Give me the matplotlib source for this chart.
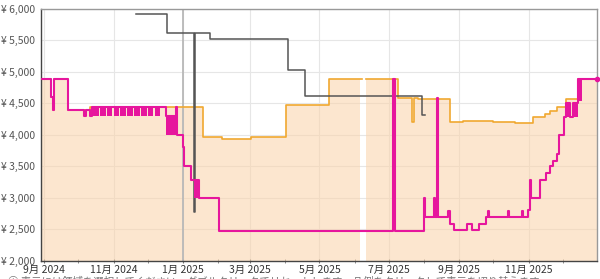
import matplotlib
matplotlib.use("Agg")
import matplotlib.pyplot as plt
import matplotlib.dates as mdates
from matplotlib.ticker import FuncFormatter, MultipleLocator
import numpy as np
import pandas as pd

plt.rcParams['font.family'] = ['Noto Sans CJK JP', 'DejaVu Sans']

# Amazon price (orange line + filled area), nan = no data
amazon_dates = ["2024-08-29", "2024-09-07", "2024-09-09", "2024-09-10", "2024-09-22",
                "2024-10-11", "2025-01-19", "2025-02-04", "2025-03-02", "2025-04-02",
                "2025-05-09", "2025-06-06", "2025-06-07", "2025-06-11", "2025-07-09",
                "2025-07-21", "2025-07-23", "2025-07-27", "2025-08-24", "2025-09-04",
                "2025-10-01", "2025-10-20", "2025-11-05", "2025-11-15", "2025-11-20",
                "2025-11-26", "2025-12-04", "2025-12-14", "2025-12-31"]
amazon_prices = [4890, 4600, 4400, 4890, 4400,
                 4440, 3970, 3940, 3970, 4470,
                 4890, 4890, np.nan, 4890, 4580,
                 4210, 4580, 4560, 4210, 4220,
                 4200, 4190, 4290, 4330, 4380,
                 4440, 4570, 4890, 4890]

# new, 3rd party (magenta)
new_dates = ["2024-08-29", "2024-09-07", "2024-09-09", "2024-09-10", "2024-09-22",
             "2024-10-06", "2024-10-08", "2024-10-11", "2024-10-13", "2024-12-17",
             "2024-12-26", "2024-12-27", "2025-01-01", "2025-01-02", "2025-01-08",
             "2025-01-15", "2025-02-02", "2025-07-05", "2025-07-06", "2025-08-01",
             "2025-08-02", "2025-08-10", "2025-08-11", "2025-08-12", "2025-08-13",
             "2025-08-22", "2025-08-24", "2025-08-27", "2025-09-08", "2025-09-12",
             "2025-09-18", "2025-09-24", "2025-09-26", "2025-09-27", "2025-10-14",
             "2025-10-15", "2025-10-26", "2025-10-27", "2025-10-31", "2025-11-02",
             "2025-11-03", "2025-11-11", "2025-11-16", "2025-11-20", "2025-11-22",
             "2025-11-26", "2025-11-28", "2025-12-02", "2025-12-04", "2025-12-07",
             "2025-12-10", "2025-12-14", "2025-12-31"]
new_prices = [4890, 4600, 4400, 4890, 4400,
              4300, 4400, 4300, 4440, 4300,
              4440, 4000, 3810, 3500, 3290,
              3000, 2480, 4890, 2480, 3000,
              2690, 3000, 2690, 4580, 2690,
              2790, 2590, 2490, 2590, 2490,
              2590, 2690, 2790, 2690, 2790,
              2690, 2790, 2690, 2810, 3290,
              3000, 3290, 3390, 3500, 3590,
              3700, 4000, 4290, 4500, 4290,
              4500, 4890, 4890]

# periods where the 3rd party price flipped daily between two values
band_start = ["2024-10-14", "2024-10-20", "2024-10-26", "2024-11-01", "2024-11-07",
              "2024-11-13", "2024-11-19", "2024-11-25", "2024-12-01", "2024-12-07",
              "2024-12-17", "2025-01-11", "2025-11-02", "2025-12-04", "2025-12-10",
              "2025-12-14"]
band_end = ["2024-10-19", "2024-10-25", "2024-10-31", "2024-11-06", "2024-11-12",
            "2024-11-18", "2024-11-24", "2024-11-30", "2024-12-06", "2024-12-12",
            "2024-12-26", "2025-01-15", "2025-11-04", "2025-12-07", "2025-12-14",
            "2025-12-18"]
band_low = [4300] * 10 + [4000, 3000, 3000, 4290, 4290, 4540]
band_high = [4440] * 10 + [4300, 3290, 3290, 4500, 4500, 4890]

# list price (grey)
list_dates = ["2024-11-21", "2024-12-18", "2025-01-11", "2025-01-12", "2025-01-25",
              "2025-04-03", "2025-04-18", "2025-07-30", "2025-08-02"]
list_prices = [5920, 5620, 2780, 5620, 5520, 5020, 4610, 4320, 4320]

amazon_x = pd.to_datetime(amazon_dates)
new_x = pd.to_datetime(new_dates)
list_x = pd.to_datetime(list_dates)

orange = '#f0a830'
magenta = '#e6169d'
grey = '#555555'

fig = plt.figure(figsize=(6, 2.79), dpi=100)
ax = fig.add_axes([0.068, 0.0645, 0.927, 0.9045])

ax.set_axisbelow(True)
ax.grid(True, which='major', color='#e6e6e6', linewidth=0.8)

ax.fill_between(amazon_x, amazon_prices, 2000, step='post',
                color='#fbd3a8', alpha=0.55, linewidth=0, zorder=1)
ax.axvline(pd.Timestamp("2025-01-01"), color='#b8b8b8', linewidth=1.3, zorder=2)

ax.step(amazon_x, amazon_prices, where='post', color=orange, linewidth=1.2, zorder=3)
ax.step(list_x, list_prices, where='post', color=grey, linewidth=1.1, zorder=4)

for s, e, lo, hi in zip(band_start, band_end, band_low, band_high):
    ax.fill_between(pd.to_datetime([s, e]), lo, hi, color=magenta, linewidth=0, zorder=5)
ax.step(new_x, new_prices, where='post', color=magenta, linewidth=1.5, zorder=5)
ax.plot(new_x[-1:], new_prices[-1:], 'o', color=magenta, markersize=3, zorder=6,
        clip_on=False)

ax.set_ylim(2000, 6000)
ax.set_xlim(pd.Timestamp("2024-08-29"), pd.Timestamp("2025-12-31"))
ax.yaxis.set_major_locator(MultipleLocator(500))
ax.yaxis.set_major_formatter(FuncFormatter(lambda v, p: f"¥ {int(v):,}"))

ax.xaxis.set_major_locator(mdates.MonthLocator(bymonth=[1, 3, 5, 7, 9, 11]))
ax.xaxis.set_minor_locator(mdates.MonthLocator())
ax.xaxis.set_major_formatter(FuncFormatter(
    lambda v, p: f"{mdates.num2date(v).month}月 {mdates.num2date(v).year}"))

ax.tick_params(axis='y', length=0, pad=4, labelsize=7.5, labelcolor='#555555')
ax.tick_params(axis='x', which='both', direction='inout', length=3, color='#777777',
               labelsize=7.5, labelcolor='#333333', pad=1)
ax.grid(False, which='minor')

for side in ['left', 'bottom']:
    ax.spines[side].set_color('#444444')
    ax.spines[side].set_linewidth(1.0)
for side in ['top', 'right']:
    ax.spines[side].set_color('#999999')
    ax.spines[side].set_linewidth(1.0)

fig.text(0.013, -0.01, "ⓘ 表示には領域を選択してください。ダブルクリックでリセットします。凡例をクリックして表示を切り替えます。",
         fontsize=7.5, color='#777777', va='center', ha='left')

fig.savefig("out.png", dpi=100)
